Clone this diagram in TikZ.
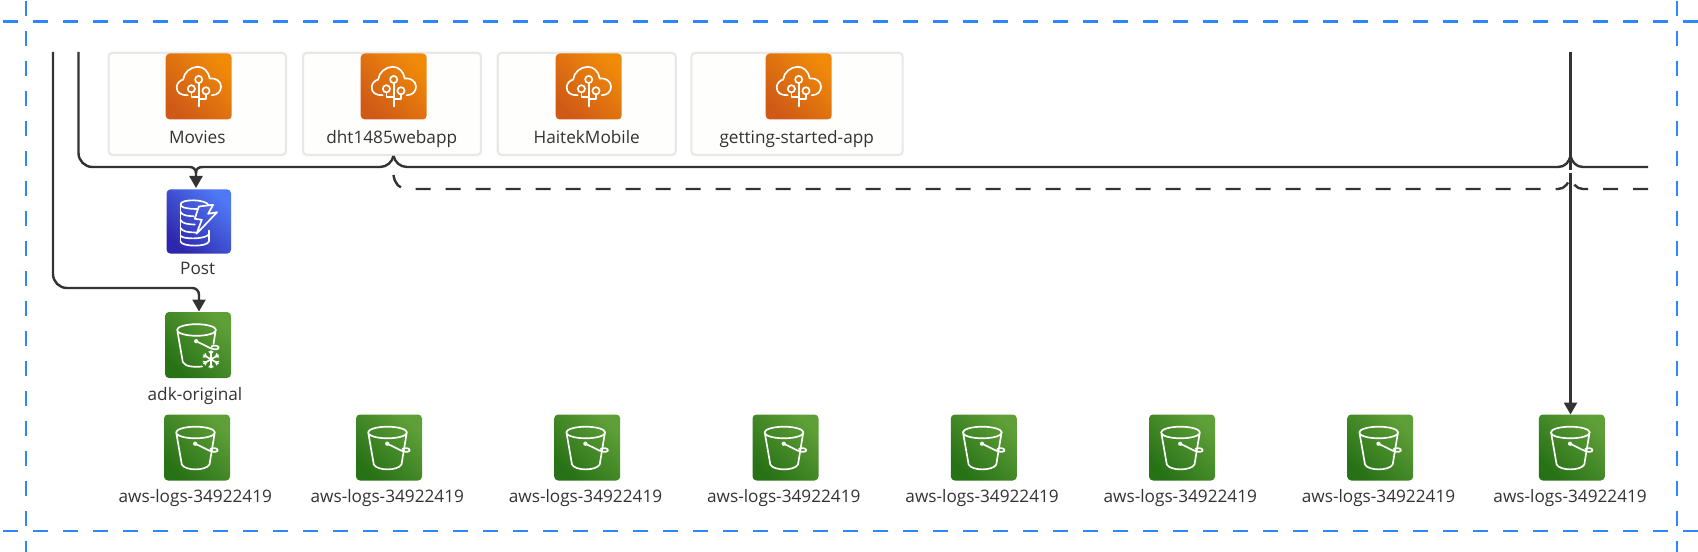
\documentclass[tikz,border=0pt]{standalone}
\usepackage{fontspec}
\setmainfont{Open Sans}
\usetikzlibrary{arrows.meta}
\definecolor{ink}{HTML}{333333}
\definecolor{frameblue}{HTML}{2E86FF}
\definecolor{cardline}{HTML}{E8E8E8}
\definecolor{cardfill}{HTML}{FEFEFD}
\definecolor{orA}{HTML}{CF5A17}
\definecolor{orB}{HTML}{F08A08}
\definecolor{grA}{HTML}{277116}
\definecolor{grB}{HTML}{5E9F37}
\definecolor{blA}{HTML}{2E27AD}
\definecolor{blB}{HTML}{4F78F5}
\tikzset{
  framed/.style={frameblue,line width=2.2pt,dash pattern=on 11.25pt off 11.25pt},
  conn/.style={ink,line width=1.8pt},
  dashconn/.style={ink,line width=1.8pt,dash pattern=on 11.25pt off 11.25pt},
  arrowed/.style={-{Triangle[length=9pt,width=9.8pt]}},
  card/.style={draw=cardline,fill=cardfill,line width=1.6pt,rounded corners=3pt,minimum height=76.7pt,inner sep=0pt},
  iconbase/.style={rounded corners=3pt,minimum size=49.5pt,inner sep=0pt,shading=axis},
  iconor/.style={iconbase,bottom color=orA,top color=orB,shading angle=-45},
  icongr/.style={iconbase,bottom color=grA,top color=grB,shading angle=-45},
  iconbl/.style={iconbase,minimum size=48.3pt,bottom color=blA,top color=blB,shading angle=-45},
  lab/.style={text=ink,font=\fontsize{12.9pt}{15pt}\selectfont,anchor=base,inner sep=0pt},
  glyph/.style={draw=white,line width=1.25pt,line cap=round,line join=round},
  tree/.pic={
    \draw[glyph] (-11,8.7) .. controls (-18,9) and (-22,6) .. (-22,1)
      .. controls (-22,-3) and (-19,-6) .. (-15.5,-7)
      .. controls (-15,-14) and (-8,-19.7) .. (-1,-19.7)
      .. controls (5,-19.7) and (10,-15) .. (11,-8)
      .. controls (17,-9) and (22.3,-5) .. (22.3,0)
      .. controls (22.3,5) and (19,8.7) .. (13,8.7);
    \draw[glyph] (0,-7) circle[radius=3.6];
    \draw[glyph] (-7.3,2.3) circle[radius=3.6];
    \draw[glyph] (7.3,4.3) circle[radius=3.6];
    \draw[glyph] (0,-3.4) -- (0,20);
    \draw[glyph] (-7.3,5.9) -- (-7.3,10.3) -- (0,10.3);
    \draw[glyph] (7.3,7.9) -- (7.3,12.7) -- (0,12.7);
  },
  pail/.pic={
    \draw[glyph] (-1.5,-15) ellipse[x radius=19.5,y radius=5.8];
    \draw[glyph] (-20.5,-13.5) -- (-15.2,17) .. controls (-12,23.5) and (9,23.5) .. (12.5,17) -- (17.5,-13.5);
    \fill[white] (-1.8,-3.8) circle[radius=2.1];
    \draw[glyph] (-1.8,-3.8) -- (12.5,3.2) .. controls (17,5.2) and (22,4.3) .. (20.5,2)
       .. controls (19.5,0.3) and (15,0.2) .. (13.5,1.5);
  },
  pailcold/.pic={
    \draw[glyph] (-1.5,-15) ellipse[x radius=19.5,y radius=5.8];
    \draw[glyph] (-20.5,-13.5) -- (-15.2,17) .. controls (-13,22) and (-3,22.2) .. (4,21.5);
    \draw[glyph] (17.5,-13.5) -- (15.5,-1);
    \fill[white] (-1.8,-3.8) circle[radius=2.1];
    \draw[glyph] (-1.8,-3.8) -- (12.5,3.2) .. controls (17,5.2) and (22,4.3) .. (20.5,2)
       .. controls (19.5,0.3) and (15,0.2) .. (13.5,1.5);
    \foreach \a in {90,150,210,270,330,30}{
      \draw[glyph] (13,14.3) -- ++(\a:8.3);
      \draw[glyph,line width=1pt] (13,14.3) ++(\a:5.5) -- ++(\a+40:3);
      \draw[glyph,line width=1pt] (13,14.3) ++(\a:5.5) -- ++(\a-40:3);
    }
  },
  dbglyph/.pic={
    \draw[glyph] (10,-16) .. controls (8,-22.5) and (-18.3,-23) .. (-18.3,-17)
       .. controls (-18.3,-13.3) and (-8,-12.5) .. (-1,-12.5);
    \draw[glyph] (-18.3,-17) -- (-18.3,20);
    \draw[glyph] (-18.3,-9.5) .. controls (-17,-6) and (-10,-5.3) .. (-5,-5.3);
    \draw[glyph] (-18.3,-1.5) .. controls (-17,2) and (-10,3) .. (-4,3);
    \draw[glyph] (-18.3,6.5) .. controls (-17,10) and (-10,11) .. (-3,11);
    \draw[glyph] (-18.3,14) .. controls (-17,18) and (6,18) .. (10,13);
    \draw[glyph] (10,9) -- (10,20);
    \draw[glyph] (-18.3,20) .. controls (-17,25.5) and (9,25.5) .. (10,20);
    \draw[glyph] (0,-15) -- (14.3,-16.7) -- (9.3,-7.7) -- (18.3,-9.3) -- (-2.3,12.3) -- (3,-1.7) -- (-4,-2.7) -- cycle;
  },
}
\begin{document}
\begin{tikzpicture}[x=.75pt,y=-.75pt]
\useasboundingbox (0,0) rectangle (1698,552);
\fill[white] (0,0) rectangle (1698,552);
% dashed frame
\draw[framed] (3,21.7) -- (1698,21.7);
\draw[framed] (3,531) -- (1698,531);
\draw[framed] (26,1) -- (26,552);
\draw[framed] (1677,1) -- (1677,552);
% cards
\node[card,minimum width=133pt] (c1) at (197.3,103.9) {};
\node[card,minimum width=133.5pt] (c2) at (392,103.9) {};
\node[card,minimum width=133.5pt] (c3) at (586.8,103.9) {};
\node[card,minimum width=158.5pt] (c4) at (797,103.9) {};
% app icons
\node[iconor] (i1) at (198.7,86.5) {};
\node[iconor] (i2) at (393.7,86.5) {};
\node[iconor] (i3) at (588.7,86.5) {};
\node[iconor] (i4) at (798.7,86.5) {};
\pic at (i1) {tree}; \pic at (i2) {tree}; \pic at (i3) {tree}; \pic at (i4) {tree};
\node[lab] (l1) at (197.3,143.3) {Movies};
\node[lab] (l2) at (391.7,143.3) {dht1485webapp};
\node[lab] (l3) at (586.7,143.3) {HaitekMobile};
\node[lab] (l4) at (796.7,143.3) {getting-started-app};
% table
\node[iconbl] (post) at (198.8,221.5) {};
\pic at (post) {dbglyph};
\node[lab] (lpost) at (197.7,275) {Post};
% cold bucket
\node[icongr] (adk) at (198,345) {};
\pic at (adk) {pailcold};
\node[lab] (ladk) at (195,400) {adk-original};
% buckets
\foreach \n/\cx in {1/197,2/389,3/587.2,4/785.5,5/983.8,6/1182,7/1380.2,8/1571.8}{
  \node[icongr] (b\n) at (\cx,447.5) {};
  \pic at (b\n) {pail};
  \node[lab] (lb\n) at (\cx-1.7,502.7) {aws-logs-34922419};
}
% connector coordinates
\coordinate (a0) at (53,52);
\coordinate (aB) at (53,288);
\coordinate (aJ) at (199,288);
\coordinate (aT) at (199,311.5);
\coordinate (f0) at (78.5,52);
\coordinate (fB) at (78.5,167);
\coordinate (pJ) at (196,167);
\coordinate (pK) at (196,173);
\coordinate (pT) at (196,188);
\coordinate (up1) at (393.5,156);
\coordinate (up2) at (1570.5,156);
\coordinate (endS) at (1648,167);
\coordinate (endD) at (1648,189);
\coordinate (d1) at (393.5,175);
\coordinate (d2) at (1570.5,175);
\coordinate (v0) at (1570.5,52);
\coordinate (v1) at (1570.5,170);
\coordinate (v2) at (1570.5,173);
\coordinate (vT) at (1570.5,414.5);
% solid connectors
\draw[conn,arrowed] (a0) [rounded corners=10.5pt] -- (aB) [rounded corners=5pt] -- (aJ) [sharp corners] -- (aT);
\draw[conn,arrowed] (f0) [rounded corners=10.5pt] -- (fB) [rounded corners=4.5pt] -- (pJ) [sharp corners] -- (pT);
\draw[conn] (up1) .. controls (392,162) and (387,167) .. (380,167) -- (203,167) .. controls (198,167) and (196,169) .. (pK);
\draw[conn] (up1) .. controls (395,162) and (400,167) .. (407,167) -- (1558,167) .. controls (1565,167) and (1569,162) .. (up2);
\draw[conn] (endS) -- (1583,167) .. controls (1576,167) and (1572,162) .. (up2);
\draw[conn] (v0) -- (v1);
\draw[conn,arrowed] (v2) -- (vT);
% dashed connectors
\draw[dashconn] (d1) .. controls (394.5,183) and (399,189) .. (407,189) -- (1558,189) .. controls (1565,189) and (1569,183) .. (d2);
\draw[dashconn] (endD) -- (1583,189) .. controls (1576,189) and (1572,183) .. (d2);
\end{tikzpicture}
\end{document}
